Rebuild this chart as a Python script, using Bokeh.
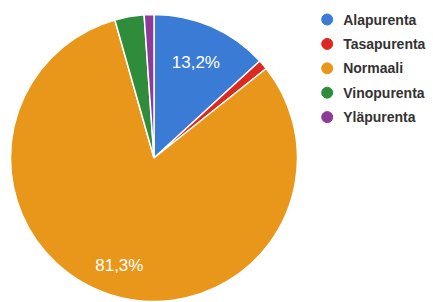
import math
from bokeh.plotting import figure
from bokeh.models import ColumnDataSource
from bokeh.core.properties import value
from bokeh.embed import file_html
from bokeh.resources import INLINE

# Data
categories = ["Alapurenta", "Tasapurenta", "Normaali", "Vinopurenta", "Yläpurenta"]
counts = [12, 1, 74, 3, 1]
colors = ["#3a7bd5", "#dc2a22", "#e8971a", "#2e8c3b", "#8e3a9b"]

# Layout (pixels)
W, H = 433, 302
cx, cy, R = 153.5, 144.5, 143.5
label_r = [0.725, 0.7, 0.79, 0.7, 0.7]

total = sum(counts)
fracs = [c / total for c in counts]
starts, ends, mids = [], [], []
cum = 0.0
for f in fracs:
    a0 = math.pi / 2 - 2 * math.pi * cum
    a1 = math.pi / 2 - 2 * math.pi * (cum + f)
    starts.append(a0)
    ends.append(a1)
    mids.append((a0 + a1) / 2)
    cum += f

src = ColumnDataSource(dict(x=[cx] * len(counts), y=[cy] * len(counts),
                            start=starts, end=ends, color=colors, cat=categories))

p = figure(width=W, height=H, x_range=(0, W), y_range=(0, H),
           output_backend="svg", toolbar_location=None, min_border=0)
p.axis.visible = False
p.grid.visible = False
p.outline_line_color = None
p.background_fill_color = "white"

p.wedge(x="x", y="y", radius=R, start_angle="start", end_angle="end",
        direction="clock", fill_color="color", line_color="white",
        line_width=1.5, source=src)

# Percentage labels for large slices
lx, ly, lt = [], [], []
for i, f in enumerate(fracs):
    if f > 0.05:
        r = R * label_r[i]
        lx.append(cx + r * math.cos(mids[i]))
        ly.append(cy + r * math.sin(mids[i]))
        lt.append(f"{f * 100:.1f}%".replace(".", ","))
p.text(x=lx, y=ly, text=lt, text_color="white", text_font=value("Liberation Sans"),
       text_font_size="17px", text_align="center", text_baseline="middle")

# Legend
leg_x, leg_y0, leg_dy = 326.7, 283.0, 24.4
ly2 = [leg_y0 - i * leg_dy for i in range(len(categories))]
p.scatter(x=[leg_x] * len(categories), y=ly2, size=11, marker="circle",
          fill_color=colors, line_color=colors)
p.text(x=[leg_x + 16] * len(categories), y=ly2, text=categories, text_color="#333333",
       text_font=value("Liberation Sans"), text_font_size="14px", text_font_style="bold",
       text_baseline="middle", text_align="left")

open("out.html", "w").write(file_html(p, INLINE))
